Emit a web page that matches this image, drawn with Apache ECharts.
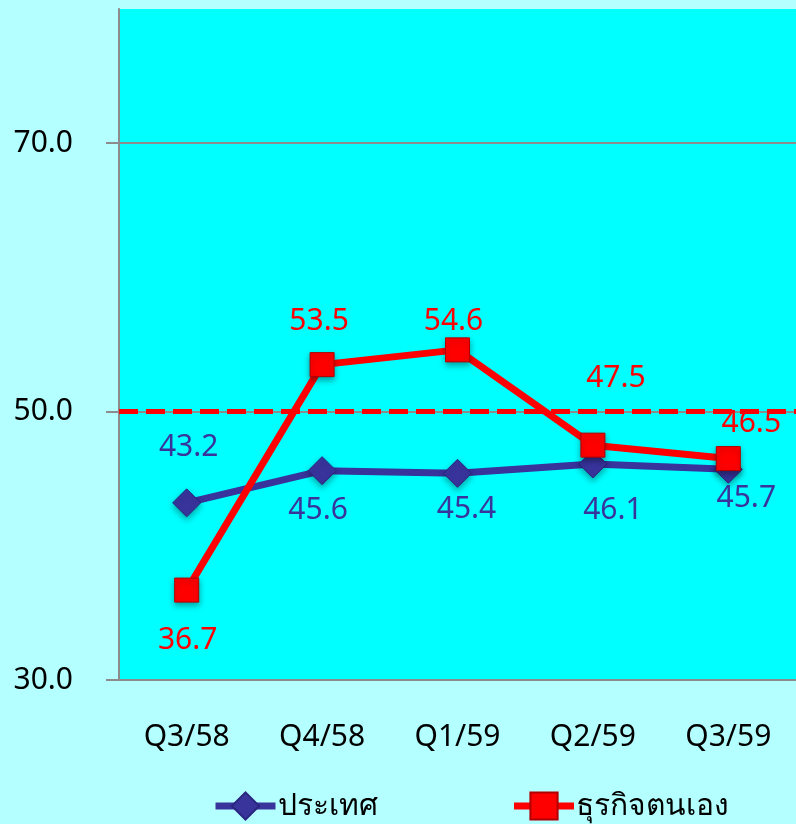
<!DOCTYPE html>
<html>
<head>
<meta charset="utf-8">
<script src="https://cdn.jsdelivr.net/npm/echarts@6/dist/echarts.min.js"></script>
<style>
  html, body { margin: 0; padding: 0; background: #b4ffff; }
  #chart { width: 796px; height: 824px; }
</style>
</head>
<body>
<div id="chart"></div>
<script>
// data
const categories = ['Q3/58', 'Q4/58', 'Q1/59', 'Q2/59', 'Q3/59'];
const countryName = 'ประเทศ';
const countryValues = [43.2, 45.6, 45.4, 46.1, 45.7];
const ownBizName = 'ธุรกิจตนเอง';
const ownBizValues = [36.7, 53.5, 54.6, 47.5, 46.5];
const baseline = 50;

// where each value label sits relative to its marker (px)
const countryLabelOffsets = [[2, -55], [-4, 40], [9, 36], [20, 47], [18, 29]];
const ownBizLabelOffsets = [[1, 50], [-3, -43], [-4, -28], [23, -67], [23, -35]];

const blue = '#38349c';
const red = '#ff0000';
const font = '"Noto Sans", sans-serif';

const withOffsets = (vals, offs) => vals.map((v, i) => ({
  value: v,
  label: { offset: offs[i] }
}));

const chart = echarts.init(document.getElementById('chart'));

let option = {
  backgroundColor: '#b4ffff',
  textStyle: { fontFamily: font },
  grid: {
    left: 119,
    top: 9,
    width: 683,
    bottom: 144,
    show: true,
    backgroundColor: '#00ffff',
    borderWidth: 0
  },
  legend: {
    left: 207,
    top: 786,
    itemWidth: 60,
    itemHeight: 34,
    itemGap: 133,
    lineStyle: { width: 7 },
    textStyle: { fontSize: 30, color: '#000', fontFamily: font, padding: [0, 0, 0, -3] },
    data: [countryName, ownBizName]
  },
  xAxis: {
    type: 'category',
    data: categories,
    boundaryGap: true,
    axisLine: { lineStyle: { color: '#8c8c8c', width: 2 } },
    axisTick: { show: false },
    axisLabel: { fontSize: 30, color: '#000', margin: 42, fontFamily: font }
  },
  yAxis: {
    type: 'value',
    min: 30,
    max: 80,
    interval: 20,
    axisLine: { show: true, lineStyle: { color: '#8c8c8c', width: 2 } },
    axisTick: { show: true, length: 13, lineStyle: { color: '#8c8c8c', width: 2 } },
    axisLabel: {
      fontSize: 30,
      color: '#000',
      margin: 46,
      showMaxLabel: false,
      fontFamily: font,
      formatter: v => v.toFixed(1)
    },
    splitLine: {
      show: true,
      lineStyle: { color: ['#8c8c8c', '#8c8c8c', '#8c8c8c', 'rgba(0,0,0,0)'], width: 2 }
    }
  },
  series: [
    {
      name: countryName,
      type: 'line',
      data: withOffsets(countryValues, countryLabelOffsets),
      symbol: 'diamond',
      symbolSize: 28,
      lineStyle: { color: blue, width: 7 },
      itemStyle: {
        color: blue,
        borderColor: '#2a2680',
        borderWidth: 1,
        shadowBlur: 6,
        shadowColor: 'rgba(0,0,0,0.35)',
        shadowOffsetY: 3
      },
      label: {
        show: true,
        position: 'inside',
        fontSize: 30,
        color: blue,
        fontFamily: font,
        formatter: p => p.value.toFixed(1)
      },
      z: 2
    },
    {
      name: ownBizName,
      type: 'line',
      data: withOffsets(ownBizValues, ownBizLabelOffsets),
      symbol: 'rect',
      symbolSize: 24,
      lineStyle: { color: red, width: 7 },
      itemStyle: {
        color: red,
        borderColor: '#b00000',
        borderWidth: 1,
        shadowBlur: 6,
        shadowColor: 'rgba(0,0,0,0.35)',
        shadowOffsetY: 3
      },
      label: {
        show: true,
        position: 'inside',
        fontSize: 30,
        color: red,
        fontFamily: font,
        formatter: p => p.value.toFixed(1)
      },
      markLine: {
        silent: true,
        symbol: 'none',
        label: { show: false },
        lineStyle: { color: red, width: 5, type: [19, 8] },
        data: [{ yAxis: baseline }]
      },
      z: 3
    }
  ]
};

chart.setOption(option);
</script>
</body>
</html>
